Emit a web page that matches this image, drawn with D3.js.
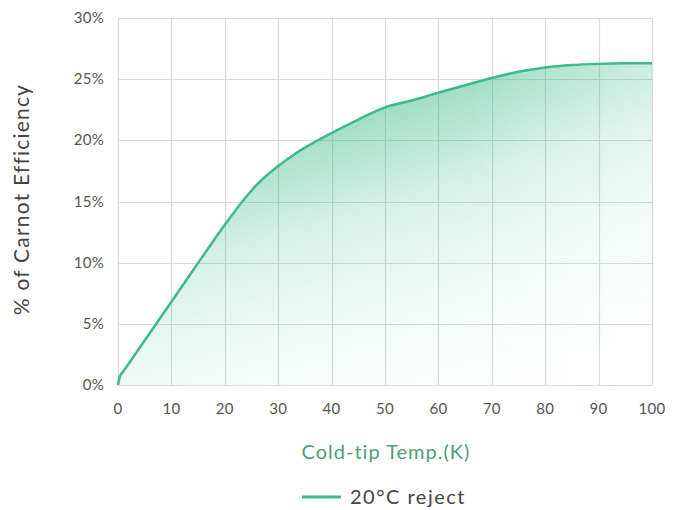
<!DOCTYPE html>
<html>
<head>
<meta charset="UTF-8">
<script src="https://cdn.jsdelivr.net/npm/d3@7"></script>
<style>
  body { margin: 0; background: #fff; }
  text { font-family: "Lato", "Open Sans", sans-serif; }
</style>
</head>
<body>
<div id="chart"></div>
<script>
    // values
    var temps = [0, 0.4, 1, 5, 10, 15, 17.5, 20, 22.5, 25, 27.5, 30, 32.5, 35, 40, 45, 50, 55, 60, 65, 70, 75, 80, 85, 90, 95, 100];
    var effic = [0, 0.75, 1.12, 3.64, 6.8, 9.98, 11.55, 13.1, 14.55, 15.9, 17.0, 17.9, 18.7, 19.4, 20.6, 21.7, 22.7, 23.25, 23.9, 24.5, 25.1, 25.6, 25.95, 26.15, 26.25, 26.3, 26.3];
    var xTicks = [0, 10, 20, 30, 40, 50, 60, 70, 80, 90, 100];
    var yTicks = [0, 5, 10, 15, 20, 25, 30];
    var seriesName = "20\u00B0C reject";

    var width = 680, height = 510;
    var padding = { top: 18, right: 28, bottom: 125, left: 118 };
    var green = "#3dba8c";

    var svg = d3.select("#chart").append("svg").attr("width", width).attr("height", height);

    var x = d3.scaleLinear().domain([0, 100]).range([padding.left, width - padding.right]);
    var y = d3.scaleLinear().domain([0, 30]).range([height - padding.bottom, padding.top]);

    // slanted fade under the curve, a bit lighter towards the right edge
    var defs = svg.append("defs");
    var grad = defs.append("linearGradient").attr("id", "fillGrad")
        .attr("gradientUnits", "userSpaceOnUse")
        .attr("x1", 403.5).attr("y1", 91.7).attr("x2", 489.7).attr("y2", 379);
    [[0, 0.52], [0.133, 0.40], [0.333, 0.22], [0.567, 0.11], [0.7, 0.07], [1, 0.01]].forEach(function(s) {
        grad.append("stop").attr("offset", s[0]).attr("stop-color", green).attr("stop-opacity", s[1]);
    });
    var mgrad = defs.append("linearGradient").attr("id", "maskGrad")
        .attr("gradientUnits", "userSpaceOnUse")
        .attr("x1", 470).attr("y1", 0).attr("x2", 652).attr("y2", 0);
    mgrad.append("stop").attr("offset", 0).attr("stop-color", "#fff");
    mgrad.append("stop").attr("offset", 1).attr("stop-color", "#b3b3b3");
    defs.append("mask").attr("id", "fadeMask").attr("maskUnits", "userSpaceOnUse")
        .attr("x", 0).attr("y", 0).attr("width", width).attr("height", height)
        .append("rect").attr("width", width).attr("height", height).attr("fill", "url(#maskGrad)");

    // grid
    svg.append("g").selectAll("line").data(xTicks).enter().append("line")
        .attr("x1", function(d) { return Math.round(x(d)) + 0.5; })
        .attr("x2", function(d) { return Math.round(x(d)) + 0.5; })
        .attr("y1", y(30)).attr("y2", y(0))
        .attr("stroke", "#d9d9d9").attr("stroke-width", 1.2);
    svg.append("g").selectAll("line").data(yTicks).enter().append("line")
        .attr("y1", function(d) { return Math.round(y(d)) + 0.5; })
        .attr("y2", function(d) { return Math.round(y(d)) + 0.5; })
        .attr("x1", x(0)).attr("x2", x(100))
        .attr("stroke", "#d9d9d9").attr("stroke-width", 1.2);

    var pts = temps.map(function(t, i) { return [t, effic[i]]; });

    var area = d3.area().curve(d3.curveMonotoneX)
        .x(function(d) { return x(d[0]); })
        .y0(y(0))
        .y1(function(d) { return y(d[1]); });
    var line = d3.line().curve(d3.curveMonotoneX)
        .x(function(d) { return x(d[0]); })
        .y(function(d) { return y(d[1]); });

    svg.append("path").datum(pts).attr("d", area)
        .attr("fill", "url(#fillGrad)").attr("mask", "url(#fadeMask)");
    svg.append("path").datum(pts).attr("d", line)
        .attr("fill", "none").attr("stroke", green).attr("stroke-width", 2.5);

    // tick labels
    svg.append("g").selectAll("text").data(xTicks).enter().append("text")
        .attr("x", function(d) { return x(d); })
        .attr("y", y(0) + 29)
        .attr("text-anchor", "middle").attr("font-size", "15px").attr("fill", "#555")
        .attr("letter-spacing", "0.3px")
        .text(function(d) { return d; });
    svg.append("g").selectAll("text").data(yTicks).enter().append("text")
        .attr("x", x(0) - 14)
        .attr("y", function(d) { return y(d) + 5; })
        .attr("text-anchor", "end").attr("font-size", "15px").attr("fill", "#555")
        .attr("letter-spacing", "0.3px")
        .text(function(d) { return d + "%"; });

    // axis titles
    svg.append("text").attr("x", (x(0) + x(100)) / 2 + 1).attr("y", 459)
        .attr("text-anchor", "middle").attr("font-size", "20px").attr("fill", "#4e9c7c")
        .attr("letter-spacing", "1px")
        .text("Cold-tip Temp.(K)");
    svg.append("text")
        .attr("transform", "translate(29," + (y(15) - 2) + ") rotate(-90)")
        .attr("text-anchor", "middle").attr("font-size", "21px").attr("fill", "#444")
        .attr("letter-spacing", "1.2px")
        .text("% of Carnot Efficiency");

    // legend
    svg.append("line").attr("x1", 302).attr("x2", 341).attr("y1", 497).attr("y2", 497)
        .attr("stroke", green).attr("stroke-width", 3);
    svg.append("text").attr("x", 350).attr("y", 504)
        .attr("font-size", "20px").attr("fill", "#444").attr("letter-spacing", "1.5px")
        .text(seriesName);
</script>
</body>
</html>
